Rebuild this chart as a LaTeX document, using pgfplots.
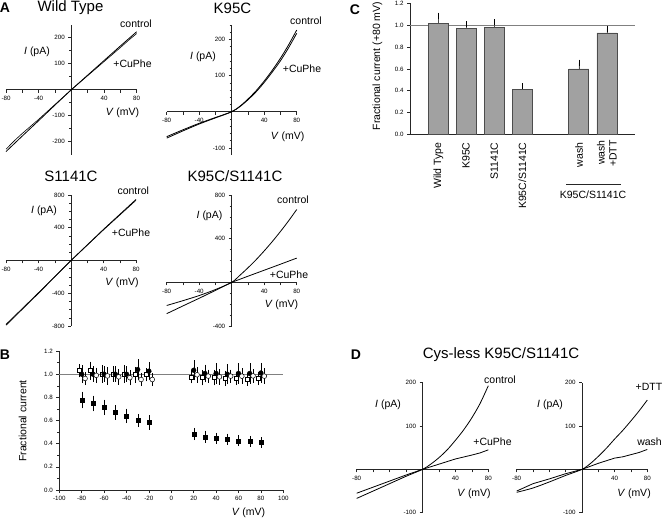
\documentclass[border=0pt]{standalone}
\usepackage{pgfplots}
\pgfplotsset{compat=1.18}
\usepackage{fontspec}
\setmainfont{Liberation Sans}
\newcommand{\tl}{\fontsize{6.2}{7}\selectfont}
\newcommand{\lab}{\fontsize{10.5}{12}\selectfont}
\newcommand{\ttl}{\fontsize{15}{18}\selectfont}
\newcommand{\pl}{\fontsize{14}{16}\selectfont\bfseries}
\pgfplotsset{
  iv/.style={
    scale only axis, anchor=south west, axis lines=middle,
    axis line style={draw=black!85, line width=0.6pt, -},
    xmin=-80, xmax=80,
    xtick={-80,-60,-40,-20,20,40,60,80},
    xticklabels={-80,,-40,,,40,,80},
    tick align=outside, tick style={black!85, line width=0.5pt},
    major tick length=3pt, minor tick length=2pt,
    ticklabel style={font=\tl},
    /pgf/number format/assume math mode=true,
    clip=false,
  },
  ivline/.style={black, line width=0.8pt, no marks},
  fc/.style={
    scale only axis, anchor=south west,
    axis x line=bottom, axis y line=left,
    axis line style={draw=black!85, line width=0.6pt, -},
    tick align=outside, tick style={black!85, line width=0.5pt},
    major tick length=3pt, minor tick length=2pt,
    ticklabel style={font=\tl},
    /pgf/number format/assume math mode=true,
    y tick label style={/pgf/number format/.cd, fixed, fixed zerofill, precision=1},
    clip=false,
  },
}
\begin{document}
\begin{tikzpicture}
% ---------------- A: Wild Type
\begin{axis}[iv, at={(6pt,-154.7pt)}, width=130.7pt, height=130pt,
  ymin=-250, ymax=250, ytick={-200,-100,100,200}, minor ytick={-150,-50,50,150}]
\addplot[ivline] coordinates {(-80,-238) (-60,-178) (-40,-119) (-20,-59) (0,0) (20,56) (40,112) (60,168) (80,223)};
\addplot[ivline, line width=0.6pt] coordinates {(-80,-229) (-70,-197) (-60,-168) (-40,-114) (-20,-57) (0,0) (20,54) (40,108) (60,162) (70,190) (80,216)};
\end{axis}
% ---------------- A: K95C
\begin{axis}[iv, at={(166.7pt,-155.1pt)}, width=130pt, height=130.1pt,
  ymin=-120, ymax=240, ytick={-100,100,200},
  minor ytick={-80,-60,-40,-20,20,40,60,80,120,140,160,180,220,240}]
\addplot[ivline, smooth] coordinates {(-80,-73) (-60,-53) (-40,-34) (-20,-17) (0,0) (10,15) (20,35) (30,58) (40,85) (50,115) (60,148) (70,185) (80,226)};
\addplot[ivline, smooth] coordinates {(-80,-69) (-60,-50) (-40,-32) (-20,-16) (0,0) (10,14) (20,33) (30,55) (40,81) (50,110) (60,141) (70,177) (80,217)};
\end{axis}
% ---------------- A: S1141C
\begin{axis}[iv, at={(6pt,-326pt)}, width=130pt, height=131pt,
  ymin=-800, ymax=800, ytick={-800,-400,400,800},
  minor ytick={-700,-600,-500,-300,-200,-100,100,200,300,500,600,700}]
\addplot[ivline] coordinates {(-80,-790) (-40,-400) (0,0) (40,380) (80,745)};
\addplot[ivline, line width=0.6pt] coordinates {(-80,-780) (-40,-393) (0,0) (40,374) (80,735)};
\end{axis}
% ---------------- A: K95C/S1141C
\begin{axis}[iv, at={(166.7pt,-326pt)}, width=130pt, height=131pt,
  ymin=-400, ymax=800, ytick={-400,400,800},
  minor ytick={-300,-200,-100,100,200,300,500,600,700}]
\addplot[ivline, smooth] coordinates {(-80,-212) (-60,-168) (-40,-121) (-20,-66) (0,0) (10,64) (20,133) (30,207) (40,288) (50,374) (60,466) (70,563) (80,667)};
\addplot[ivline] coordinates {(-80,-287) (-60,-216) (-40,-146) (-20,-74) (0,0) (20,56) (40,111) (60,166) (80,222)};
\end{axis}
% ---------------- B
\begin{axis}[fc, at={(59.3pt,-490pt)}, width=224pt, height=139pt,
  xmin=-100, xmax=100, ymin=0, ymax=1.2,
  xtick={-100,-80,...,100}, ytick={0,0.2,...,1.2}, minor y tick num=1]
\addplot[gray, line width=0.7pt, no marks] coordinates {(-100,1) (100,1)};
% open squares
\addplot[only marks, mark=square*, mark size=2pt, mark options={fill=white, draw=black, line width=0.5pt},
  error bars/.cd, y dir=both, y explicit, error mark options={black, mark size=2pt}] coordinates {
(-82,1.03) +- (0,0.04) (-72,1.03) +- (0,0.06) (-62,1.00) +- (0,0.06) (-52,1.00) +- (0,0.05) (-42,1.00) +- (0,0.06) (-32,0.995) +- (0,0.05) (-22,0.995) +- (0,0.04)
(18,0.977) +- (0,0.04) (28,0.97) +- (0,0.05) (38,0.97) +- (0,0.05) (48,0.963) +- (0,0.05) (58,0.963) +- (0,0.04) (68,0.957) +- (0,0.04) (78,0.963) +- (0,0.04)};
% filled circles
\addplot[only marks, mark=*, mark size=2.4pt, mark options={fill=black, draw=black},
  error bars/.cd, y dir=both, y explicit, error mark options={black, mark size=2pt}] coordinates {
(-80,1.00) +- (0,0.06) (-70,1.0) +- (0,0.05) (-60,1.0) +- (0,0.05) (-50,1.0) +- (0,0.05) (-40,1.0) +- (0,0.05) (-30,1.04) +- (0,0.07) (-20,1.026) +- (0,0.06)
(20,1.034) +- (0,0.07) (30,1.006) +- (0,0.06) (40,1.006) +- (0,0.07) (50,1.0) +- (0,0.07) (60,1.006) +- (0,0.07) (70,1.006) +- (0,0.07) (80,1.01) +- (0,0.07)};
% open circles
\addplot[only marks, mark=*, mark size=2.4pt, mark options={fill=white, draw=black, line width=0.5pt},
  error bars/.cd, y dir=both, y explicit, error mark options={black, mark size=2pt}] coordinates {
(-77,0.963) +- (0,0.04) (-67,0.99) +- (0,0.05) (-57,0.985) +- (0,0.06) (-47,0.977) +- (0,0.05) (-37,0.97) +- (0,0.05) (-27,0.954) +- (0,0.04) (-17,0.954) +- (0,0.04)
(23,0.995) +- (0,0.05) (33,0.983) +- (0,0.04) (43,0.977) +- (0,0.05) (53,0.983) +- (0,0.04) (63,0.983) +- (0,0.05) (73,0.985) +- (0,0.04) (83,0.983) +- (0,0.05)};
% filled squares
\addplot[only marks, mark=square*, mark size=2pt, mark options={fill=black, draw=black},
  error bars/.cd, y dir=both, y explicit, error mark options={black, mark size=2pt}] coordinates {
(-80,0.776) +- (0,0.055) (-70,0.747) +- (0,0.05) (-60,0.713) +- (0,0.05) (-50,0.67) +- (0,0.045) (-40,0.64) +- (0,0.045) (-30,0.60) +- (0,0.04) (-20,0.583) +- (0,0.045)
(20,0.483) +- (0,0.035) (30,0.46) +- (0,0.035) (40,0.445) +- (0,0.03) (50,0.44) +- (0,0.03) (60,0.425) +- (0,0.03) (70,0.42) +- (0,0.03) (80,0.41) +- (0,0.03)};
\end{axis}
% ---------------- C
\begin{axis}[fc, at={(410pt,-134.3pt)}, width=225pt, height=130.8pt,
  xmin=0, xmax=8, ymin=0, ymax=1.2, xtick=\empty, ytick={0,0.2,...,1.2}]
\addplot[gray, line width=0.7pt, no marks] coordinates {(0,1) (8,1)};
\addplot[ybar, bar width=20pt, fill=black!37, draw=black!70, line width=0.6pt,
  error bars/.cd, y dir=plus, y explicit, error mark options={black, mark size=3pt}] coordinates {
(1,1.018) +- (0,0.07) (2,0.972) +- (0,0.037) (3,0.982) +- (0,0.045) (4,0.41) +- (0,0.033) (6,0.60) +- (0,0.057) (7,0.93) +- (0,0.04)};
\end{axis}
% ---------------- D left
\begin{axis}[iv, at={(356.7pt,-512.7pt)}, width=131.6pt, height=130pt,
  ymin=-100, ymax=200, ytick={-100,100,200}, xticklabels={-80,,,,,40,,80}]
\addplot[ivline, smooth] coordinates {(-80,-67) (-60,-50) (-40,-33) (-20,-16) (0,0) (10,12) (20,27) (30,45) (40,67) (50,91) (60,119) (70,152) (80,193)};
\addplot[ivline] coordinates {(-80,-55) (-60,-41) (-40,-27) (-20,-13) (0,0) (20,12) (40,24) (60,33) (70,38) (80,45)};
\end{axis}
% ---------------- D right
\begin{axis}[iv, at={(516.7pt,-512.7pt)}, width=130.6pt, height=130pt,
  ymin=-100, ymax=200, ytick={-100,100,200}, xticklabels={-80,,,,,40,,80}]
\addplot[ivline, smooth] coordinates {(-80,-53) (-60,-43) (-40,-29) (-20,-14) (0,0) (10,13) (20,30) (30,49) (40,70) (50,90) (60,112) (70,135) (80,160)};
\addplot[ivline] coordinates {(-80,-50) (-60,-33) (-40,-22) (-20,-10) (0,0) (20,14) (40,26) (50,29) (60,34) (70,39) (80,46)};
\end{axis}
% ---------------- text
% A
\node[font=\pl] at (5pt,-7.5pt) {A};
\node[font=\ttl] at (70.5pt,-7.5pt) {Wild Type};
\node[font=\lab] at (136pt,-23.3pt) {control};
\node[font=\lab] at (132.5pt,-63.3pt) {+CuPhe};
\node[font=\lab] at (37pt,-52pt) {\textit{I} (pA)};
\node[font=\lab] at (122.5pt,-113pt) {\textit{V} (mV)};
\node[font=\ttl] at (232.5pt,-8pt) {K95C};
\node[font=\lab] at (306pt,-21pt) {control};
\node[font=\lab] at (302pt,-69pt) {+CuPhe};
\node[font=\lab] at (203pt,-57pt) {\textit{I} (pA)};
\node[font=\lab] at (287.7pt,-136.7pt) {\textit{V} (mV)};
\node[font=\ttl] at (71pt,-176pt) {S1141C};
\node[font=\lab] at (133.3pt,-191pt) {control};
\node[font=\lab] at (131pt,-232.7pt) {+CuPhe};
\node[font=\lab] at (44pt,-210.7pt) {\textit{I} (pA)};
\node[font=\lab] at (122pt,-283pt) {\textit{V} (mV)};
\node[font=\ttl] at (235pt,-176pt) {K95C/S1141C};
\node[font=\lab] at (293pt,-199.3pt) {control};
\node[font=\lab] at (289pt,-275pt) {+CuPhe};
\node[font=\lab] at (209.5pt,-216pt) {\textit{I} (pA)};
\node[font=\lab] at (281.5pt,-305pt) {\textit{V} (mV)};
% B
\node[font=\pl] at (5pt,-355pt) {B};
\node[font=\lab, rotate=90] at (22.7pt,-421pt) {Fractional current};
\node[font=\lab] at (248.5pt,-513pt) {\textit{V} (mV)};
% C
\node[font=\pl] at (355pt,-9.3pt) {C};
\node[font=\lab, rotate=90] at (377.3pt,-66pt) {Fractional current (+80 mV)};
\node[font=\lab, rotate=90, anchor=east] at (438.3pt,-139pt) {Wild Type};
\node[font=\lab, rotate=90, anchor=east] at (466pt,-139pt) {K95C};
\node[font=\lab, rotate=90, anchor=east] at (494.3pt,-139pt) {S1141C};
\node[font=\lab, rotate=90, anchor=east] at (522.3pt,-139pt) {K95C/S1141C};
\node[font=\lab, rotate=90, anchor=east] at (579pt,-139pt) {wash};
\node[font=\lab, rotate=90, anchor=east, align=right, inner sep=1pt] at (606.7pt,-139pt) {wash\\+DTT};
\draw[black!85, line width=0.6pt] (566pt,-184pt) -- (620.7pt,-184pt);
\node[font=\lab] at (593pt,-194.7pt) {K95C/S1141C};
% D
\node[font=\pl] at (356pt,-355pt) {D};
\node[font=\ttl] at (501pt,-355pt) {Cys-less K95C/S1141C};
\node[font=\lab] at (500pt,-379.5pt) {control};
\node[font=\lab] at (492.5pt,-441.7pt) {+CuPhe};
\node[font=\lab] at (388pt,-405pt) {\textit{I} (pA)};
\node[font=\lab] at (474pt,-493.3pt) {\textit{V} (mV)};
\node[font=\lab] at (649pt,-387pt) {+DTT};
\node[font=\lab] at (649.5pt,-441.7pt) {wash};
\node[font=\lab] at (550pt,-405pt) {\textit{I} (pA)};
\node[font=\lab] at (634pt,-493.3pt) {\textit{V} (mV)};
\pgfresetboundingbox
\path[use as bounding box] (0pt,0pt) rectangle (664pt,-518pt);
\end{tikzpicture}
\end{document}
